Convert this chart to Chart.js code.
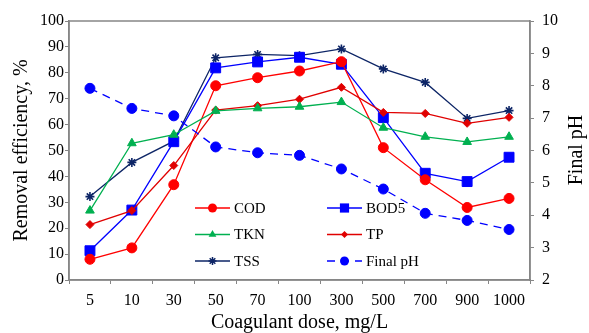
<!DOCTYPE html>
<html><head><meta charset="utf-8">
<script src="https://cdn.jsdelivr.net/npm/chart.js@4.4.1/dist/chart.umd.min.js"></script>
<style>html,body{margin:0;padding:0;background:#fff}canvas{display:block}</style>
</head><body>
<canvas id="c" width="589" height="333"></canvas>
<script>
// ---- data ----
const doses = ['5','10','30','50','70','100','300','500','700','900','1000'];
const COD  = [8.0, 12.4, 36.8, 75.0, 78.1, 80.7, 84.3, 51.1, 38.7, 28.0, 31.5];
const BOD5 = [11.3, 27.0, 53.4, 81.9, 84.2, 86.0, 83.3, 62.7, 41.2, 38.0, 47.4];
const TKN  = [26.8, 52.8, 56.1, 65.3, 66.3, 66.9, 68.7, 58.8, 55.3, 53.3, 55.3];
const TP   = [21.4, 26.8, 44.2, 65.6, 67.3, 69.8, 74.4, 64.7, 64.3, 60.5, 62.8];
const TSS  = [32.2, 45.4, 53.6, 85.8, 87.1, 86.6, 89.2, 81.5, 76.3, 62.4, 65.4];
const finalPH = [7.92, 7.30, 7.07, 6.11, 5.93, 5.85, 5.43, 4.81, 4.06, 3.84, 3.56];
const seriesNames = ['COD','BOD5','TKN','TP','TSS','Final pH'];
const xTitle = 'Coagulant dose, mg/L';
const yTitle = 'Removal efficiency, %';
const y2Title = 'Final pH';

const FONT = '"Liberation Serif", "Times New Roman", serif';
const AXIS = '#868686';

function ds(label, data, color, style, radius, extra) {
  return Object.assign({
    label, data, borderColor: color, backgroundColor: color,
    pointBackgroundColor: color, pointBorderColor: color,
    pointStyle: style, pointRadius: radius, pointBorderWidth: 1,
    borderWidth: 1.3, tension: 0, yAxisID: 'y', fill: false
  }, extra || {});
}

const datasets = [
  ds(seriesNames[5], finalPH, '#0000FF', 'circle', 5, {yAxisID: 'y2', borderDash: [8, 6]}),
  ds(seriesNames[2], TKN, '#00B050', 'triangle', 5),
  ds(seriesNames[3], TP, '#E00000', 'rectRot', 4),
  ds(seriesNames[0], COD, '#FF0000', 'circle', 5),
  ds(seriesNames[1], BOD5, '#0000FF', 'rect', 7),
  ds(seriesNames[4], TSS, '#0D2566', 'star', 4.5, {pointBorderWidth: 1.6}),
];

function marker(ctx, style, x, y, r, color) {
  ctx.save();
  ctx.fillStyle = color; ctx.strokeStyle = color; ctx.lineWidth = 1.5; ctx.setLineDash([]);
  ctx.beginPath();
  if (style === 'circle') { ctx.arc(x, y, r, 0, Math.PI * 2); ctx.fill(); }
  else if (style === 'rect') { const s = r * Math.SQRT1_2; ctx.rect(x - s, y - s, 2 * s, 2 * s); ctx.fill(); }
  else if (style === 'triangle') {
    ctx.moveTo(x, y - r); ctx.lineTo(x + r * 0.866, y + r * 0.5); ctx.lineTo(x - r * 0.866, y + r * 0.5); ctx.closePath(); ctx.fill();
  } else if (style === 'rectRot') {
    ctx.moveTo(x, y - r); ctx.lineTo(x + r, y); ctx.lineTo(x, y + r); ctx.lineTo(x - r, y); ctx.closePath(); ctx.fill();
  } else if (style === 'star') {
    const d = r * 0.707;
    ctx.moveTo(x - d, y - d); ctx.lineTo(x + d, y + d);
    ctx.moveTo(x + d, y - d); ctx.lineTo(x - d, y + d);
    ctx.moveTo(x, y - r); ctx.lineTo(x, y + r);
    ctx.moveTo(x - r, y); ctx.lineTo(x + r, y);
    ctx.stroke();
  }
  ctx.restore();
}

const legendLayout = [
  {name: 'COD', x0: 195, x1: 230, y: 208},
  {name: 'TKN', x0: 195, x1: 230, y: 234.5},
  {name: 'TSS', x0: 195, x1: 230, y: 261},
  {name: 'BOD5', x0: 327, x1: 362, y: 208},
  {name: 'TP', x0: 327, x1: 362, y: 234.5},
  {name: 'Final pH', x0: 327, x1: 362, y: 261},
];

const extras = {
  id: 'extras',
  beforeDatasetsDraw(chart) {
    const {ctx, chartArea: a} = chart;
    ctx.save();
    ctx.strokeStyle = AXIS; ctx.lineWidth = 1.5;
    ctx.strokeRect(a.left, a.top, a.right - a.left, a.bottom - a.top);
    ctx.restore();
  },
  afterDraw(chart) {
    const ctx = chart.ctx;
    // right axis title, reading bottom-to-top
    ctx.save();
    ctx.translate(577, 150);
    ctx.rotate(-Math.PI / 2);
    ctx.fillStyle = '#000'; ctx.font = '20px ' + FONT;
    ctx.textAlign = 'center'; ctx.textBaseline = 'middle';
    ctx.fillText(y2Title, 0, 0);
    ctx.restore();
    // legend
    legendLayout.forEach(item => {
      const d = chart.data.datasets.find(s => s.label === item.name);
      ctx.save();
      ctx.strokeStyle = d.borderColor; ctx.lineWidth = 1.3;
      ctx.setLineDash(d.borderDash || []);
      ctx.beginPath(); ctx.moveTo(item.x0, item.y); ctx.lineTo(item.x1, item.y); ctx.stroke();
      ctx.restore();
      const mx = (item.x0 + item.x1) / 2;
      const r = d.pointStyle === 'rect' ? 6.5 : (d.pointStyle === 'rectRot' ? 3.5 : 4.5);
      marker(ctx, d.pointStyle, mx, item.y, d.pointStyle === 'star' ? 4 : r, d.borderColor);
      ctx.save();
      ctx.fillStyle = '#000'; ctx.font = '15px ' + FONT;
      ctx.textAlign = 'left'; ctx.textBaseline = 'middle';
      ctx.fillText(item.name, item.x1 + 4, item.y + 1);
      ctx.restore();
    });
  }
};

new Chart(document.getElementById('c'), {
  type: 'line',
  data: {labels: doses, datasets},
  options: {
    responsive: false, animation: false, devicePixelRatio: 1,
    layout: {padding: {top: 21, left: 0, right: 0, bottom: 0}},
    plugins: {legend: {display: false}, tooltip: {enabled: false}},
    scales: {
      x: {
        type: 'category', offset: true,
        grid: {offset: true, drawOnChartArea: false, drawTicks: true, tickLength: 4, color: AXIS, lineWidth: 1},
        border: {color: AXIS, width: 1.5},
        ticks: {color: '#000', font: {family: FONT, size: 16}, padding: 7, maxRotation: 0, autoSkip: false},
        title: {display: true, text: xTitle, color: '#000', font: {family: FONT, size: 20, lineHeight: 1}, padding: 0},
        afterFit(s) { s.height = 53; }
      },
      y: {
        position: 'left', min: 0, max: 100,
        grid: {drawOnChartArea: false, drawTicks: true, tickLength: 4, color: AXIS},
        border: {color: AXIS, width: 1.5},
        ticks: {stepSize: 10, color: '#000', font: {family: FONT, size: 16}, padding: 1},
        title: {display: true, text: yTitle, color: '#000', font: {family: FONT, size: 20}, padding: {top: 10, bottom: 0}},
        afterFit(s) { s.width = 69; }
      },
      y2: {
        position: 'right', min: 2, max: 10,
        grid: {drawOnChartArea: false, drawTicks: true, tickLength: 4, color: AXIS},
        border: {color: AXIS, width: 1.5},
        ticks: {stepSize: 1, color: '#000', font: {family: FONT, size: 16}, padding: 8},
        afterFit(s) { s.width = 59; }
      }
    }
  },
  plugins: [extras]
});
</script>
</body></html>
